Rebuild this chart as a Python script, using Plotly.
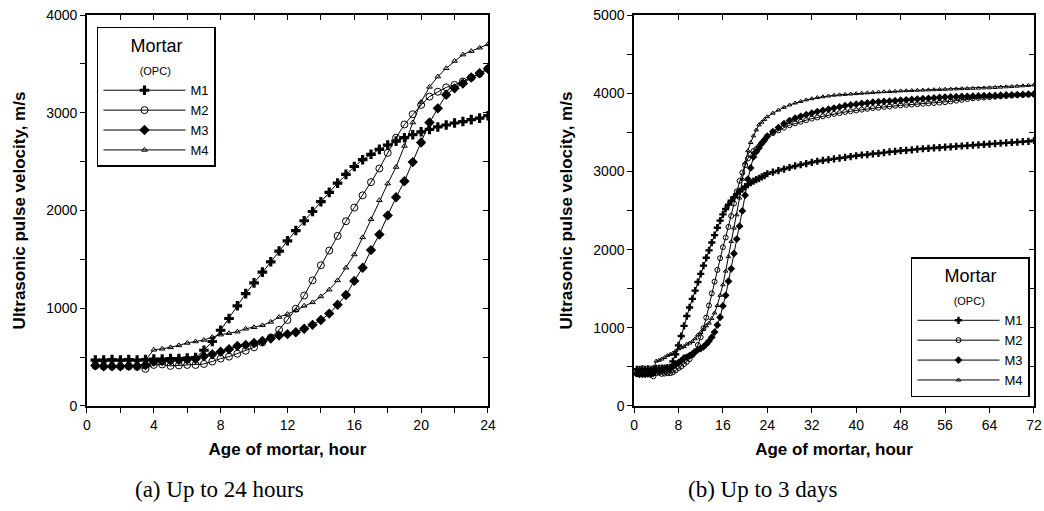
import plotly.graph_objects as go

# ---------------- data ----------------
hours_a = [0.5, 1.0, 1.5, 2.0, 2.5, 3.0, 3.5, 4.0, 4.5, 5.0, 5.5, 6.0,
           6.5, 7.0, 7.5, 8.0, 8.5, 9.0, 9.5, 10.0, 10.5, 11.0, 11.5, 12.0,
           12.5, 13.0, 13.5, 14.0, 14.5, 15.0, 15.5, 16.0, 16.5, 17.0, 17.5, 18.0,
           18.5, 19.0, 19.5, 20.0, 20.5, 21.0, 21.5, 22.0, 22.5, 23.0, 23.5, 24.0]

M1_a = [470, 470, 475, 470, 475, 470, 475, 480, 480, 485, 485, 490,
        495, 570, 660, 775, 895, 1025, 1150, 1260, 1370, 1475, 1585, 1690,
        1795, 1895, 1990, 2090, 2185, 2280, 2370, 2450, 2520, 2575, 2625, 2670,
        2710, 2745, 2775, 2805, 2830, 2855, 2875, 2895, 2910, 2930, 2945, 2970]
M2_a = [410, 405, 405, 405, 405, 400, 380, 420, 425, 410, 415, 420,
        420, 430, 455, 485, 505, 535, 565, 600, 650, 700, 780, 880,
        995, 1130, 1285, 1440, 1590, 1740, 1890, 2030, 2155, 2290, 2430, 2590,
        2745, 2880, 2985, 3080, 3165, 3215, 3260, 3285, 3320, 3360, 3400, 3450]
M3_a = [415, 405, 405, 405, 410, 410, 420, 455, 460, 465, 470, 475,
        480, 510, 530, 555, 580, 615, 625, 645, 665, 690, 720, 735,
        755, 790, 830, 880, 945, 1035, 1135, 1280, 1415, 1595, 1755, 1950,
        2135, 2300, 2495, 2695, 2900, 3045, 3185, 3250, 3300, 3360, 3405, 3450]
M4_a = [460, 460, 465, 465, 465, 465, 470, 575, 585, 600, 620, 645,
        660, 675, 705, 730, 745, 760, 790, 805, 825, 860, 910, 940,
        980, 1025, 1060, 1120, 1190, 1285, 1415, 1550, 1725, 1910, 2105, 2275,
        2445, 2660, 2900, 3110, 3265, 3370, 3455, 3530, 3595, 3630, 3665, 3700]

hours_b = [25, 26, 27, 28, 29, 30, 31, 32, 33, 34, 35, 36,
           37, 38, 39, 40, 41, 42, 43, 44, 45, 46, 47, 48,
           49, 50, 51, 52, 53, 54, 55, 56, 57, 58, 59, 60,
           61, 62, 63, 64, 65, 66, 67, 68, 69, 70, 71, 72]
M1_b = [2990, 3010, 3030, 3050, 3070, 3085, 3100, 3115, 3130, 3140, 3150, 3160,
        3170, 3180, 3190, 3200, 3210, 3215, 3225, 3230, 3240, 3250, 3255, 3265,
        3270, 3275, 3285, 3290, 3295, 3300, 3305, 3310, 3315, 3320, 3325, 3330,
        3335, 3340, 3345, 3350, 3355, 3360, 3365, 3370, 3375, 3380, 3385, 3395]
M2_b = [3490, 3525, 3560, 3590, 3615, 3635, 3655, 3675, 3690, 3705, 3720, 3735,
        3745, 3760, 3770, 3780, 3790, 3800, 3810, 3815, 3825, 3830, 3840, 3845,
        3850, 3855, 3860, 3865, 3870, 3875, 3880, 3885, 3895, 3905, 3915, 3925,
        3935, 3940, 3945, 3950, 3955, 3960, 3965, 3970, 3975, 3978, 3982, 3985]
M3_b = [3510, 3560, 3610, 3650, 3680, 3705, 3725, 3745, 3765, 3780, 3795, 3810,
        3825, 3840, 3850, 3860, 3870, 3875, 3885, 3890, 3895, 3900, 3905, 3910,
        3915, 3920, 3925, 3930, 3935, 3940, 3945, 3950, 3952, 3955, 3958, 3960,
        3962, 3965, 3968, 3970, 3972, 3975, 3977, 3980, 3982, 3985, 3988, 3990]
M4_b = [3745, 3785, 3820, 3850, 3875, 3895, 3915, 3930, 3945, 3955, 3965, 3975,
        3980, 3985, 3990, 3995, 4000, 4005, 4010, 4015, 4020, 4022, 4025, 4030,
        4032, 4035, 4038, 4040, 4043, 4045, 4048, 4050, 4053, 4055, 4058, 4060,
        4063, 4065, 4068, 4070, 4073, 4078, 4082, 4085, 4090, 4095, 4100, 4105]

series_names = ["M1", "M2", "M3", "M4"]
caption_a = "(a) Up to 24 hours"
caption_b = "(b) Up to 3 days"

# ---------------- styling ----------------
SANS = "Arial, Liberation Sans, sans-serif"
symbols = {"M1": "cross", "M2": "circle-open", "M3": "diamond", "M4": "triangle-up-open"}
size_a = {"M1": 8, "M2": 7, "M3": 8, "M4": 5}
size_b = {"M1": 6, "M2": 5, "M3": 6, "M4": 4}
mline = {"M1": 0, "M2": 1, "M3": 0, "M4": 1}

data_a = {"M1": M1_a, "M2": M2_a, "M3": M3_a, "M4": M4_a}
data_b = {"M1": M1_a + M1_b, "M2": M2_a + M2_b, "M3": M3_a + M3_b, "M4": M4_a + M4_b}
hours_full = hours_a + hours_b

fig = go.Figure()
for name in series_names:
    fig.add_trace(go.Scatter(
        x=hours_a, y=data_a[name], name=name, mode="lines+markers",
        xaxis="x", yaxis="y", legend="legend",
        line=dict(color="black", width=1),
        marker=dict(symbol=symbols[name], size=size_a[name], color="black",
                    line=dict(color="black", width=mline[name]))))
for name in series_names:
    fig.add_trace(go.Scatter(
        x=hours_full, y=data_b[name], name=name, mode="lines+markers",
        xaxis="x2", yaxis="y2", legend="legend2",
        line=dict(color="black", width=1),
        marker=dict(symbol=symbols[name], size=size_b[name], color="black",
                    line=dict(color="black", width=mline[name]))))

# invisible helper traces so the inside-tick overlay axes get drawn
fig.add_trace(go.Scatter(x=hours_a, y=M1_a, xaxis="x3", yaxis="y3", mode="lines",
                         line=dict(width=0), opacity=0, showlegend=False, hoverinfo="skip"))
fig.add_trace(go.Scatter(x=hours_full, y=data_b["M1"], xaxis="x4", yaxis="y4", mode="lines",
                         line=dict(width=0), opacity=0, showlegend=False, hoverinfo="skip"))

xdom_a = [0.0833, 0.4674]
xdom_b = [0.6073, 0.9904]
ydom = [0.2055, 0.9706]

tickfont = dict(family=SANS, size=14, color="black")
titlefont = dict(family=SANS, size=17, color="black")

def main_x(dom, rng, dtick, minor, anchor):
    d = dict(domain=dom, range=rng, dtick=dtick, tick0=0, ticks="outside", ticklen=5,
             tickwidth=1.2, tickcolor="black", showline=True, linecolor="black",
             linewidth=1.5, mirror=True, showgrid=False, zeroline=False,
             tickfont=tickfont, anchor=anchor, automargin=False,
             title=dict(text="<b>Age of mortar, hour</b>", font=titlefont, standoff=12))
    if minor:
        d["minor"] = dict(dtick=minor, ticks="outside", ticklen=5, tickwidth=1.2,
                          tickcolor="black", showgrid=False)
    return d

def main_y(rng, anchor):
    return dict(domain=ydom, range=rng, dtick=1000, tick0=0, ticks="outside", ticklen=5,
                tickwidth=1.2, tickcolor="black", showline=True, linecolor="black",
                linewidth=1.5, mirror=True, showgrid=False, zeroline=False,
                tickfont=tickfont, anchor=anchor, automargin=False,
                minor=dict(dtick=500, ticks="outside", ticklen=5, tickwidth=1.2,
                           tickcolor="black", showgrid=False),
                title=dict(text="<b>Ultrasonic pulse velocity, m/s</b>", font=titlefont,
                           standoff=16))

def inside_x(over, rng, dtick, minor, anchor):
    d = dict(overlaying=over, side="top", anchor=anchor, range=rng, dtick=dtick, tick0=0,
             ticks="inside", ticklen=5, tickwidth=1.2, tickcolor="black", automargin=False,
             showticklabels=False, showline=False, showgrid=False, zeroline=False)
    if minor:
        d["minor"] = dict(dtick=minor, ticks="inside", ticklen=5, tickwidth=1.2,
                          tickcolor="black", showgrid=False)
    return d

def inside_y(over, rng, anchor):
    return dict(overlaying=over, side="right", anchor=anchor, range=rng, dtick=1000, tick0=0,
                ticks="inside", ticklen=5, tickwidth=1.2, tickcolor="black", automargin=False,
                showticklabels=False, showline=False, showgrid=False, zeroline=False,
                minor=dict(dtick=500, ticks="inside", ticklen=5, tickwidth=1.2,
                           tickcolor="black", showgrid=False))

legend_title = dict(
    text="Mortar<br><span style='font-size:11px'>&nbsp;&nbsp;&nbsp;(OPC)</span>",
    font=dict(family=SANS, size=18, color="black"), side="top center")

def legend_box(x, y):
    return dict(x=x, y=y, xanchor="left", yanchor="top", xref="paper", yref="paper",
                bgcolor="white", bordercolor="black", borderwidth=1.5,
                font=dict(family=SANS, size=13, color="black"),
                title=legend_title, tracegroupgap=0, itemwidth=82,
                itemsizing="trace")

fig.update_layout(
    width=1044, height=511,
    margin=dict(l=0, r=0, t=0, b=0, autoexpand=False),
    paper_bgcolor="white", plot_bgcolor="white",
    showlegend=True,
    xaxis=main_x(xdom_a, [0, 24], 4, 2, "y"),
    yaxis=main_y([0, 4000], "x"),
    xaxis2=main_x(xdom_b, [0, 72], 8, None, "y2"),
    yaxis2=main_y([0, 5000], "x2"),
    xaxis3=inside_x("x", [0, 24], 4, 2, "y"),
    yaxis3=inside_y("y", [0, 4000], "x"),
    xaxis4=inside_x("x2", [0, 72], 8, None, "y2"),
    yaxis4=inside_y("y2", [0, 5000], "x2"),
    legend=legend_box(0.0929, 0.9472),
    legend2=legend_box(0.8726, 0.497),
    annotations=[
        dict(text=caption_a, x=0.2107, y=0.043, xref="paper", yref="paper",
             xanchor="center", yanchor="middle", showarrow=False,
             font=dict(family="Liberation Serif, serif", size=23, color="black")),
        dict(text=caption_b, x=0.7308, y=0.043, xref="paper", yref="paper",
             xanchor="center", yanchor="middle", showarrow=False,
             font=dict(family="Liberation Serif, serif", size=23, color="black")),
    ],
)

fig.write_html("out.html",
               config={"displayModeBar": False},
               post_script="document.body.style.margin='0px';document.body.style.overflow='hidden';")
